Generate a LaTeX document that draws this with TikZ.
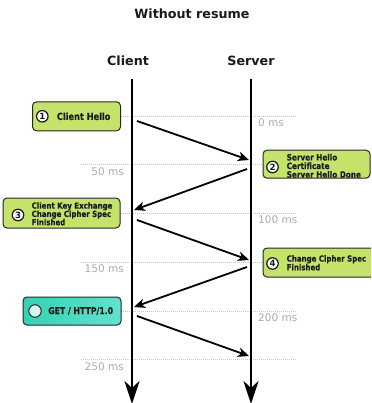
\documentclass[tikz,border=0pt]{standalone}
\usepackage{fontspec}
\setmainfont{DejaVu Sans}
\newfontfamily\boxfont[FakeStretch=0.93, FakeBold=0.1]{DejaVu Sans Condensed Bold}
\usetikzlibrary{arrows.meta}
\definecolor{boxgreen}{HTML}{C5E36B}
\definecolor{boxline}{HTML}{262626}
\definecolor{tealL}{HTML}{34D3B3}
\definecolor{tealR}{HTML}{62E2CB}
\definecolor{tealdot}{HTML}{D6F7EF}
\definecolor{gridgray}{HTML}{C4C4C4}
\definecolor{labgray}{HTML}{ABABAB}
\definecolor{ink}{HTML}{1A1A1A}
\tikzset{
  gridline/.style={gridgray, line width=0.6pt, dash pattern=on 0.8pt off 1.2pt},
  mslabel/.style={labgray, font=\fontsize{10.5}{12}\selectfont, inner sep=0pt},
  head/.style={ink, font=\bfseries\fontsize{12.7}{14}\selectfont, inner sep=0pt},
  lifeline/.style={black, line width=2.8pt, -{Stealth[length=23pt, width=15pt, inset=7pt]}},
  msg/.style={black, line width=1.8pt, -{Stealth[length=11pt, width=9.5pt, inset=3pt]}},
  greenbox/.style={draw=boxline, line width=1pt, rounded corners=4pt, fill=boxgreen, inner sep=0pt},
  tealbox/.style={draw=boxline, line width=1pt, rounded corners=4pt, left color=tealL, right color=tealR, inner sep=0pt},
  numcirc/.style={circle, draw=ink, line width=1.2pt, fill=white, minimum size=11.5pt, inner sep=0pt, font=\bfseries\fontsize{8.6}{8.6}\selectfont, text=ink},
  boxtext/.style={anchor=west, inner sep=0pt, text=ink, align=left},
}
\begin{document}
\begin{tikzpicture}[x=1pt,y=-1pt]
\useasboundingbox (0,0) rectangle (371,403);
\begin{scope}
\clip (0,0) rectangle (371,403);
% title and headers
\node[head] (title) at (192,14) {Without resume};
\node[head] (client) at (128,61) {Client};
\node[head] (server) at (251,61) {Server};

% time grid
\foreach \yy in {116,164.5,213.3,262.3,311,359.5}
  \draw[gridline] (81,\yy) -- (296,\yy);
\node[mslabel, anchor=west] (t0) at (258,123) {0 ms};
\node[mslabel, anchor=east] (t50) at (124,172) {50 ms};
\node[mslabel, anchor=west] (t100) at (258,220) {100 ms};
\node[mslabel, anchor=east] (t150) at (124,269) {150 ms};
\node[mslabel, anchor=west] (t200) at (258,318) {200 ms};
\node[mslabel, anchor=east] (t250) at (124,367) {250 ms};

% lifelines
\coordinate (ctop) at (132,79);
\coordinate (cbot) at (132,404);
\coordinate (stop) at (251,79);
\coordinate (sbot) at (251,404);
\draw[lifeline] (ctop) -- (cbot);
\draw[lifeline] (stop) -- (sbot);

% messages
\coordinate (m1a) at (137,121);  \coordinate (m1b) at (249,160);
\coordinate (m2a) at (247,169);  \coordinate (m2b) at (134,210);
\coordinate (m3a) at (137,220);  \coordinate (m3b) at (249,260);
\coordinate (m4a) at (247,267);  \coordinate (m4b) at (134,307);
\coordinate (m5a) at (137,316);  \coordinate (m5b) at (249,356);
\draw[msg] (m1a) -- (m1b);
\draw[msg] (m2a) -- (m2b);
\draw[msg] (m3a) -- (m3b);
\draw[msg] (m4a) -- (m4b);
\draw[msg] (m5a) -- (m5b);

% box 1
\node[greenbox, minimum width=88pt, minimum height=29pt] (b1) at (76.5,116.3) {};
\node[numcirc] (n1) at (42.3,116.3) {1};
\node[boxtext, font=\boxfont\fontsize{9.8}{10.5}\selectfont] (t1) at (56.7,116.3) {Client Hello};

% box 2
\node[greenbox, minimum width=107pt, minimum height=28pt] (b2) at (316.5,164.2) {};
\node[numcirc] (n2) at (272.5,167) {2};
\node[boxtext, font=\boxfont\fontsize{8.7}{8.6}\selectfont] (t2) at (286.5,165.8) {Server Hello\\Certificate\\Server Hello Done};

% box 3
\node[greenbox, minimum width=117pt, minimum height=30pt] (b3) at (61.5,213) {};
\node[numcirc] (n3) at (18,215) {3};
\node[boxtext, font=\boxfont\fontsize{8.4}{8.3}\selectfont] (t3) at (31.5,213.8) {Client Key Exchange\\Change Cipher Spec\\Finished};

% box 4
\node[greenbox, minimum width=112pt, minimum height=29pt] (b4) at (319,262.5) {};
\node[numcirc] (n4) at (272.5,263.5) {4};
\node[boxtext, font=\boxfont\fontsize{8.4}{8.7}\selectfont] (t4) at (286.5,262.8) {Change Cipher Spec\\Finished};

% box 5
\node[tealbox, minimum width=98pt, minimum height=28pt] (b5) at (72,311) {};
\node[circle, draw=boxline, line width=1pt, fill=tealdot, minimum size=12.5pt, inner sep=0pt] (n5) at (35,311) {};
\node[boxtext, font=\boxfont\fontsize{9.3}{10}\selectfont] (t5) at (48,311) {GET / HTTP/1.0};
\end{scope}
\end{tikzpicture}
\end{document}
